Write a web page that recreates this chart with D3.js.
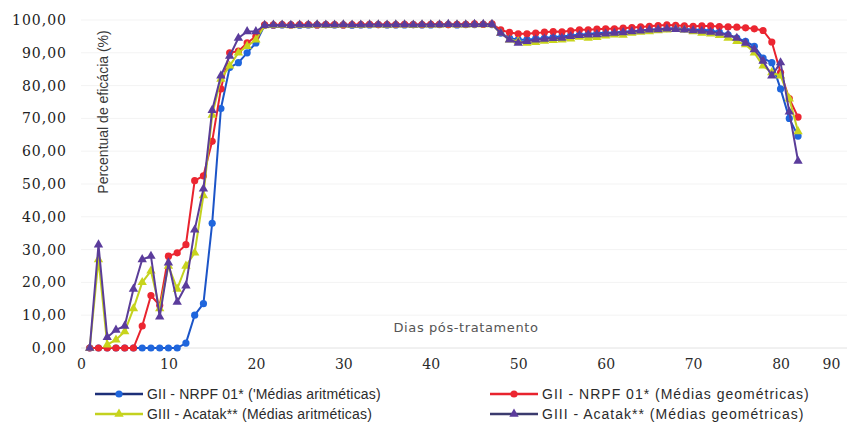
<!DOCTYPE html>
<html>
<head>
<meta charset="utf-8">
<script src="https://cdn.jsdelivr.net/npm/d3@7/dist/d3.min.js"></script>
<style>
  body { margin: 0; background: #fff; }
  svg { display: block; }
</style>
</head>
<body>
<div id="chart"></div>
<script>
// dias 1..82
const days = d3.range(1, 83);

const yTicks = [0, 10, 20, 30, 40, 50, 60, 70, 80, 90, 100];
const xTicks = [0, 10, 20, 30, 40, 50, 60, 70, 80, 90];

// GII - NRPF 01 (médias aritméticas)
const giiArit = [
  0, 0, 0, 0, 0, 0, 0, 0, 0, 0, 0, 1.5, 10, 13.5, 38, 73, 85.5, 87, 90, 93,
  98.4, 98.4, 98.5, 98.5, 98.4, 98.5, 98.5, 98.6, 98.5, 98.5, 98.4, 98.5, 98.5, 98.6,
  98.5, 98.5, 98.5, 98.6, 98.5, 98.5, 98.6, 98.6, 98.5, 98.6, 98.6, 98.7, 98.6,
  96, 94.5, 94, 94, 94.3, 94.5, 94.8, 95, 95.3, 95.5, 95.7, 96, 96, 96.2, 96.4, 96.6,
  96.8, 97, 97.2, 97.4, 97.5, 97.3, 97, 97, 96.8, 96.3, 95.5, 94.5, 93.5, 92, 88.4,
  87, 79, 70, 64.6
];

// GII - NRPF 01 (médias geométricas)
const giiGeo = [
  0, 0, 0, 0, 0, 0, 6.7, 16, 13, 28, 29, 31.5, 51, 52.5, 63, 79, 90, 90.5, 93, 95,
  98.5, 98.5, 98.6, 98.5, 98.6, 98.6, 98.5, 98.6, 98.6, 98.5, 98.6, 98.6, 98.7, 98.6,
  98.6, 98.6, 98.7, 98.6, 98.6, 98.7, 98.7, 98.6, 98.7, 98.7, 98.8, 98.7, 98.8,
  97, 96.2, 95.8, 95.8, 96, 96.3, 96.5, 96.4, 96.7, 97, 97, 97.2, 97.3, 97.3, 97.5,
  97.7, 97.9, 98.1, 98.3, 98.5, 98.4, 98.2, 98.1, 98.2, 98.2, 98, 97.9, 97.8, 97.6,
  97.3, 96.8, 93.3, 84, 76, 70.4
];

// GIII - Acatak (médias aritméticas)
const giiiArit = [
  0, 27, 1, 2.5, 5, 12, 20, 23.5, 12, 25, 18, 25, 29, 46.5, 71, 82, 86, 90, 92, 94,
  98.3, 98.4, 98.4, 98.3, 98.4, 98.4, 98.5, 98.4, 98.4, 98.5, 98.4, 98.4, 98.5, 98.5,
  98.4, 98.5, 98.5, 98.4, 98.5, 98.5, 98.5, 98.6, 98.5, 98.5, 98.6, 98.6, 98.6,
  96, 94, 93.5, 93, 93.2, 93.6, 93.8, 94, 94.3, 94.8, 94.5, 94.7, 95.2, 95.5, 95.4,
  96, 96.3, 96.5, 96.8, 97, 97.2, 97, 96.5, 96, 95.8, 95.3, 94.5, 93.5, 92.5, 90,
  86, 84, 83, 76, 66
];

// GIII - Acatak (médias geométricas)
const giiiGeo = [
  0, 31.5, 3.3, 5.5, 6.7, 18, 27, 28, 9.5, 26, 14, 19, 36, 48.5, 72.5, 83, 89, 94.5, 96.5, 96.5,
  98.4, 98.5, 98.5, 98.4, 98.5, 98.5, 98.6, 98.5, 98.5, 98.6, 98.5, 98.5, 98.6, 98.6,
  98.5, 98.6, 98.6, 98.5, 98.6, 98.6, 98.6, 98.7, 98.6, 98.6, 98.7, 98.7, 98.7,
  96, 94, 93, 93.5, 94, 94.2, 94.4, 94.5, 95, 95.3, 95.5, 95.6, 95.8, 96, 96.2,
  96.5, 96.7, 97, 97.1, 97.3, 97.2, 97, 96.8, 96.6, 96.3, 96, 95.5, 94.5, 93, 91,
  87.5, 83, 87, 72, 57
];

const seriesNames = [
  "GII - NRPF 01* ('Médias aritméticas)",
  "GII - NRPF 01* (Médias geométricas)",
  "GIII - Acatak** (Médias aritméticas)",
  "GIII - Acatak** (Médias geométricas)"
];

const W = 847, H = 423;

const series = [
  {name: seriesNames[0], values: giiArit,  line: "#1c55c8", mark: "#1f66dd", legLine: "#1d2f78", shape: "circle"},
  {name: seriesNames[1], values: giiGeo,   line: "#e8232e", mark: "#ec2631", legLine: "#e8232e", shape: "circle"},
  {name: seriesNames[2], values: giiiArit, line: "#c3d11f", mark: "#c8d41c", legLine: "#c3d11f", shape: "triangle"},
  {name: seriesNames[3], values: giiiGeo,  line: "#5a3d98", mark: "#5b3c9c", legLine: "#3b3b6e", shape: "triangle"}
];

const svg = d3.select("#chart").append("svg")
  .attr("width", W).attr("height", H)
  .attr("viewBox", `0 0 ${W} ${H}`);

svg.append("rect").attr("width", W).attr("height", H).attr("fill", "#fff");

const x = d3.scaleLinear().domain([0, 90]).range([81, 868]);
const y = d3.scaleLinear().domain([0, 100]).range([348, 20]);

// grade horizontal (bem clara)
svg.append("g")
  .selectAll("line")
  .data(yTicks.filter(d => d > 0))
  .join("line")
    .attr("x1", x(0)).attr("x2", W)
    .attr("y1", d => y(d)).attr("y2", d => y(d))
    .attr("stroke", "#f3f3f3").attr("stroke-width", 1);

// eixo y
const yAxis = svg.append("g")
  .attr("transform", `translate(${x(0) - 14},0)`)
  .call(d3.axisLeft(y).tickValues(yTicks).tickSize(0).tickPadding(0)
    .tickFormat(d => d3.format(".2f")(d).replace(".", ",")));
yAxis.select(".domain").remove();
yAxis.selectAll("text")
  .style("font-family", "'DejaVu Serif', 'Liberation Serif', serif")
  .style("font-size", "14px")
  .style("letter-spacing", "1px")
  .attr("fill", "#222");

// eixo x
const xAxis = svg.append("g")
  .attr("transform", `translate(0,${y(0)})`)
  .call(d3.axisBottom(x).tickValues(xTicks).tickSize(0).tickPadding(11));
xAxis.select(".domain").attr("stroke", "#e2e2e2").attr("d", `M${x(0)},0H${W}`);
xAxis.selectAll("text")
  .style("font-family", "'DejaVu Serif', 'Liberation Serif', serif")
  .style("font-size", "14px")
  .attr("fill", "#2b2b2b");
// como no Excel: rótulo final empurrado para dentro da área
xAxis.selectAll(".tick")
  .filter(d => x(d) > W - 12)
  .select("text")
  .attr("x", d => (W - 16) - x(d));

// títulos dos eixos
svg.append("text")
  .attr("transform", `translate(108,112) rotate(-90)`)
  .attr("text-anchor", "middle")
  .style("font-family", "'Liberation Sans', sans-serif")
  .style("font-size", "14px")
  .attr("fill", "#3a3a3a")
  .text("Percentual de eficácia (%)");

svg.append("text")
  .attr("x", 466).attr("y", 332)
  .attr("text-anchor", "middle")
  .style("font-family", "'DejaVu Sans', sans-serif")
  .style("font-size", "13px")
  .style("letter-spacing", "0.6px")
  .attr("fill", "#555")
  .text("Dias pós-tratamento");

// linhas e marcadores
const line = d3.line()
  .x((d, i) => x(days[i]))
  .y(d => y(d));

const tri = d3.symbol().type(d3.symbolTriangle).size(38);

series.forEach(s => {
  const g = svg.append("g");
  g.append("path")
    .attr("d", line(s.values))
    .attr("fill", "none")
    .attr("stroke", s.line)
    .attr("stroke-width", 2)
    .attr("stroke-linejoin", "round");
  if (s.shape === "circle") {
    g.selectAll("circle")
      .data(s.values)
      .join("circle")
        .attr("cx", (d, i) => x(days[i]))
        .attr("cy", d => y(d))
        .attr("r", 3.6)
        .attr("fill", s.mark);
  } else {
    g.selectAll("path.m")
      .data(s.values)
      .join("path")
        .attr("class", "m")
        .attr("transform", (d, i) => `translate(${x(days[i])},${y(d)})`)
        .attr("d", tri)
        .attr("fill", s.mark);
  }
});

// legenda
const legPos = [[95, 394], [490, 394], [95, 414], [490, 414]];
series.forEach((s, i) => {
  const [lx, ly] = legPos[i];
  const g = svg.append("g").attr("transform", `translate(${lx},${ly})`);
  g.append("line")
    .attr("x1", 0).attr("x2", 48).attr("y1", 0).attr("y2", 0)
    .attr("stroke", s.legLine).attr("stroke-width", 2.5);
  if (s.shape === "circle") {
    g.append("circle").attr("cx", 24).attr("cy", 0).attr("r", 3.6).attr("fill", s.mark);
  } else {
    g.append("path").attr("transform", "translate(24,0)").attr("d", tri).attr("fill", s.mark);
  }
  g.append("text")
    .attr("x", 52).attr("y", 0).attr("dy", "0.35em")
    .style("font-family", "'Liberation Sans', sans-serif")
    .style("font-size", "14px")
    .style("letter-spacing", i % 2 ? "1px" : "0.2px")
    .attr("fill", "#2b2b2b")
    .text(s.name);
});
</script>
</body>
</html>
